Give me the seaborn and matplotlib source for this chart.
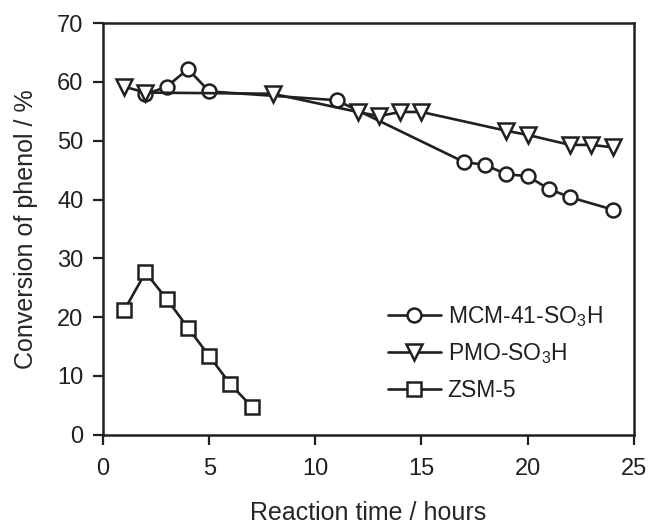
import matplotlib
matplotlib.use("Agg")
import matplotlib.pyplot as plt
import seaborn as sns

# data
mcm_time = [2, 3, 4, 5, 11, 17, 18, 19, 20, 21, 22, 24]
mcm_conv = [57.9, 59.2, 62.2, 58.4, 56.9, 46.4, 45.9, 44.3, 44.0, 41.8, 40.4, 38.3]

pmo_time = [1, 2, 8, 12, 13, 14, 15, 19, 20, 22, 23, 24]
pmo_conv = [59.2, 58.2, 58.0, 54.9, 54.2, 54.9, 54.9, 51.7, 51.0, 49.3, 49.3, 48.9]

zsm_time = [1, 2, 3, 4, 5, 6, 7]
zsm_conv = [21.2, 27.6, 23.1, 18.2, 13.4, 8.6, 4.8]

sns.set_style('ticks')
plt.rcParams['font.family'] = ['Liberation Sans', 'DejaVu Sans']
plt.rcParams['mathtext.default'] = 'regular'

ink = '#231f20'

fig = plt.figure(figsize=(6.48, 5.27), dpi=100)
ax = fig.add_axes([0.159, 0.175, 0.819, 0.781])

common = dict(color=ink, markerfacecolor='white', markeredgecolor=ink,
              markeredgewidth=1.8, linewidth=1.9, ax=ax)
sns.lineplot(x=mcm_time, y=mcm_conv, marker='o', markersize=10,
             label='MCM-41-SO$_3$H', **common)
sns.lineplot(x=pmo_time, y=pmo_conv, marker='v', markersize=12,
             label='PMO-SO$_3$H', **common)
sns.lineplot(x=zsm_time, y=zsm_conv, marker='s', markersize=10,
             label='ZSM-5', **common)

ax.set_xlim(0, 25)
ax.set_ylim(0, 70)
ax.set_xticks(range(0, 26, 5))
ax.set_yticks(range(0, 71, 10))
ax.set_xlabel('Reaction time / hours', fontsize=18, labelpad=15)
ax.set_ylabel('Conversion of phenol / %', fontsize=18, labelpad=14)
ax.tick_params(axis='both', labelsize=17, direction='out', length=7,
               width=1.6, color=ink, labelcolor=ink, pad=7)
ax.tick_params(axis='x', pad=10)
for s in ax.spines.values():
    s.set_linewidth(1.8)
    s.set_color(ink)
    s.set_visible(True)

ax.legend(loc='center left', bbox_to_anchor=(0.537, 0.199), frameon=False,
          fontsize=16.5, borderpad=0, borderaxespad=0, handlelength=2.3,
          handletextpad=0.3, labelspacing=0.55, labelcolor=ink)

fig.savefig('out.png', dpi=100)
